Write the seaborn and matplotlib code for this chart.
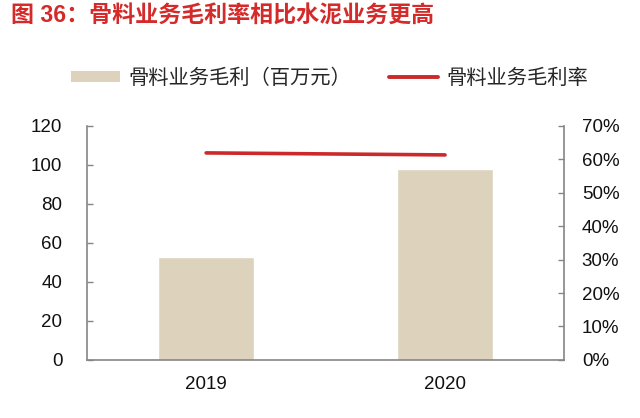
import numpy as np
import pandas as pd
import seaborn as sns
import matplotlib.pyplot as plt
from matplotlib.patches import Patch
from matplotlib.lines import Line2D
from matplotlib.ticker import FixedLocator, PercentFormatter

years = ['2019', '2020']
gross_profit = [52.7, 97.8]      # 骨料业务毛利（百万元）
gross_margin = [61.9, 61.3]      # 骨料业务毛利率 (%)

title = '图 36：骨料业务毛利率相比水泥业务更高'
bar_label = '骨料业务毛利（百万元）'
line_label = '骨料业务毛利率'

bar_color = '#DDD3BD'
line_color = '#CC2A2A'
spine_color = '#858585'

sns.set_theme(style='white')
plt.rcParams['font.family'] = ['Liberation Sans', 'Noto Sans CJK SC', 'DejaVu Sans']

fig = plt.figure(figsize=(6.4, 4.18), dpi=100)
ax = fig.add_axes([0.1355, 0.139, 0.7465, 0.560])

df = pd.DataFrame({'year': years, 'profit': gross_profit, 'margin': gross_margin})

sns.barplot(data=df, x='year', y='profit', color=bar_color, width=0.4,
            saturation=1, ax=ax)
ax.set_ylim(0, 120)
ax.set_yticks(np.arange(0, 121, 20))
ax.set_xlim(-0.5, len(years) - 0.5)
ax.set_xlabel('')
ax.set_ylabel('')

ax2 = ax.twinx()
sns.pointplot(data=df, x='year', y='margin', color=line_color, markers='',
              linewidth=2.6, ax=ax2)
ax2.set_ylim(0, 70)
ax2.set_yticks(np.arange(0, 71, 10))
ax2.yaxis.set_major_formatter(PercentFormatter(decimals=0))
ax2.set_xlim(-0.5, len(years) - 0.5)
ax2.set_ylabel('')
ax2.set_xlabel('')

for a in (ax, ax2):
    for s in a.spines.values():
        s.set_color(spine_color)
        s.set_linewidth(1.2)
    a.spines['top'].set_visible(False)
    a.grid(False)

ax.spines['right'].set_visible(False)
ax2.spines['left'].set_visible(False)
ax2.spines['bottom'].set_visible(False)

ax.tick_params(axis='y', direction='in', length=4, width=1, color=spine_color,
               pad=17.5, labelsize=13.5, labelcolor='#111111')
ax2.tick_params(axis='y', direction='in', length=4, width=1, color=spine_color,
                pad=12.5, labelsize=13.5, labelcolor='#111111')
ax.tick_params(axis='x', which='major', length=0, pad=11.5, labelsize=13.5,
               labelcolor='#111111')
ax.xaxis.set_minor_locator(FixedLocator([0.5]))
ax.tick_params(axis='x', which='minor', direction='in', length=4, width=1,
               color=spine_color)

handles = [Patch(facecolor=bar_color, edgecolor='none'),
           Line2D([0], [0], color=line_color, lw=2.8)]
fig.legend(handles, [bar_label, line_label], loc='center',
           bbox_to_anchor=(0.515, 1 - 78 / 418), ncol=2, frameon=False,
           fontsize=14.6, handlelength=2.4, handleheight=0.5, handletextpad=0.4,
           columnspacing=1.9)

fig.text(11 / 640, 1 - 15 / 418, title, color='#D42A2A', fontsize=16.6,
         fontweight='bold', ha='left', va='center')

fig.savefig('out.png', dpi=100)
